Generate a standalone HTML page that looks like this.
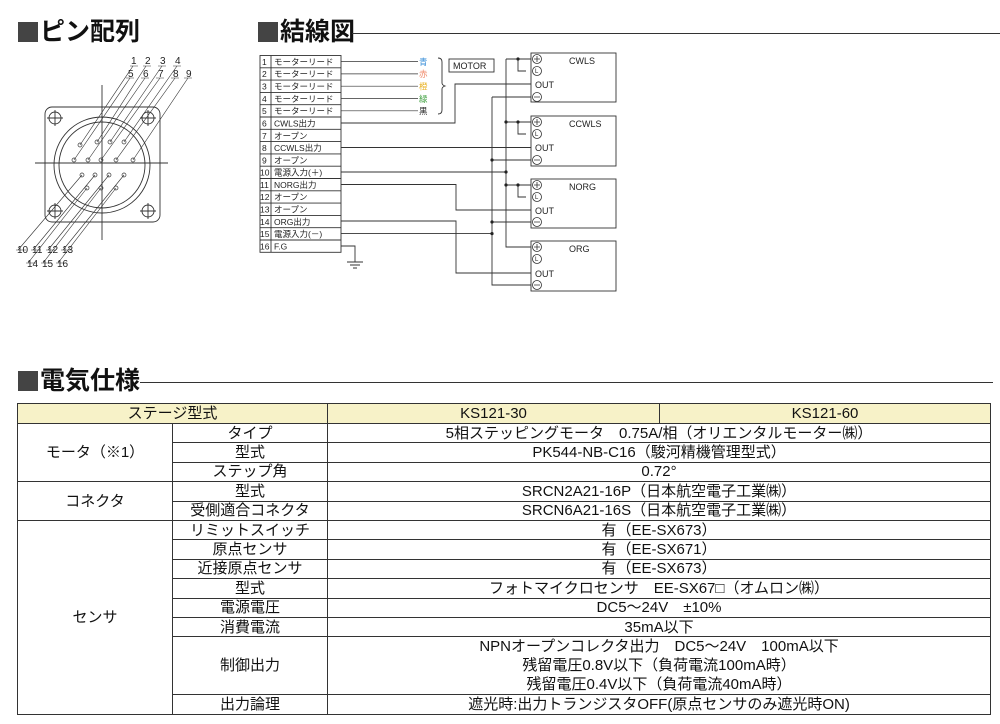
<!DOCTYPE html>
<html><head><meta charset="utf-8"><style>
body{margin:0;width:1000px;height:724px;background:#fff;overflow:hidden;position:relative;font-family:"Liberation Sans","Noto Sans CJK JP",sans-serif;color:#111}
.h{position:absolute;font-size:25px;font-weight:bold;letter-spacing:0px;line-height:30px}
.sq{display:inline-block;width:20px;height:20px;background:#444;margin-right:2px;vertical-align:-2px}
table{position:absolute;left:17px;top:403px;width:973px;border-collapse:collapse;font-size:15px;table-layout:fixed}
td{border:1px solid #333;text-align:center;padding:0;line-height:17px;white-space:nowrap;overflow:hidden}
tr{height:19.4px}
.hd td{background:#f7f2c8;height:19px}
svg{position:absolute;left:0;top:0}
</style></head><body>
<div class="h" style="left:18px;top:17px"><span class="sq"></span>ピン配列</div>
<div class="h" style="left:258px;top:17px"><span class="sq"></span>結線図</div>
<div style="position:absolute;left:352px;top:33px;width:648px;height:1px;background:#333"></div>
<div class="h" style="left:18px;top:366px"><span class="sq"></span>電気仕様</div>
<div style="position:absolute;left:140px;top:382px;width:853px;height:1px;background:#333"></div>

<svg width="1000" height="724" font-family="Liberation Sans, Noto Sans CJK JP, sans-serif">
<g stroke="#333" fill="none" stroke-width="0.9">
<rect x="45" y="107" width="115" height="115" rx="7"/>
<circle cx="102" cy="165" r="48"/><circle cx="102" cy="165" r="43"/>
<line x1="35" y1="163" x2="168" y2="163"/><line x1="102" y1="85" x2="102" y2="240"/>
<circle cx="55" cy="118" r="6"/><circle cx="148" cy="118" r="6"/><circle cx="55" cy="211" r="6"/><circle cx="148" cy="211" r="6"/>
<path d="M47 118h16M55 110v16M140 118h16M148 110v16M47 211h16M55 203v16M140 211h16M148 203v16"/>
<g stroke-width="0.7">
<circle cx="80" cy="145" r="2"/><circle cx="97" cy="142" r="2"/><circle cx="110" cy="142" r="2"/><circle cx="124" cy="142" r="2"/>
<circle cx="74" cy="160" r="2"/><circle cx="88" cy="160" r="2"/><circle cx="101" cy="160" r="2"/><circle cx="116" cy="160" r="2"/><circle cx="133" cy="160" r="2"/>
<circle cx="82" cy="175" r="2"/><circle cx="95" cy="175" r="2"/><circle cx="109" cy="175" r="2"/><circle cx="124" cy="175" r="2"/>
<circle cx="87" cy="188" r="2"/><circle cx="101" cy="188" r="2"/><circle cx="116" cy="188" r="2"/>
</g>
<g stroke-width="0.6">
<path d="M133 66L80 145M146 66L97 142M162 66L110 142M177 66L124 142"/>
<path d="M130 78L74 160M145 78L88 160M160 78L101 160M175 78L116 160M188 78L133 160"/>
<path d="M18 250L82 175M33 250L95 175M48 250L109 175M63 250L124 175"/>
<path d="M28 263L87 188M43 263L101 188M58 263L116 188"/>
<path d="M130 66h8M143 66h8M158 66h8M173 66h8M126 78h8M141 78h8M156 78h8M171 78h8M184 78h8M16 250h10M31 250h10M46 250h10M61 250h10M26 263h10M41 263h10M56 263h10"/>
</g></g>
<g font-size="10" fill="#222">
<text x="131" y="64">1</text><text x="145" y="64">2</text><text x="160" y="64">3</text><text x="175" y="64">4</text>
<text x="128" y="77">5</text><text x="143" y="77">6</text><text x="158" y="77">7</text><text x="173" y="77">8</text><text x="186" y="77">9</text>
<text x="17" y="253">10</text><text x="32" y="253">11</text><text x="47" y="253">12</text><text x="62" y="253">13</text>
<text x="27" y="267">14</text><text x="42" y="267">15</text><text x="57" y="267">16</text>
</g>

<g stroke="#333" fill="none" stroke-width="0.9">
<rect x="260" y="55.5" width="81" height="196.8"/>
<line x1="271" y1="55.5" x2="271" y2="252.3"/>
<path d="M260 67.8h81M260 80.1h81M260 92.4h81M260 104.7h81M260 117h81M260 129.3h81M260 141.6h81M260 153.9h81M260 166.2h81M260 178.5h81M260 190.8h81M260 203.1h81M260 215.4h81M260 227.7h81M260 240h81"/>
<path d="M341 61.6h77M341 73.9h77M341 86.2h77M341 98.5h77M341 110.8h77" stroke-width="0.7"/>
<path d="M438 58q4 0 4 4v21q0 2 3 3q-3 1 -3 3v21q0 4 -4 4"/>
<rect x="449" y="59" width="45" height="13"/>
<rect x="531" y="53" width="85" height="49"/><rect x="531" y="116" width="85" height="50"/>
<rect x="531" y="179" width="85" height="49"/><rect x="531" y="241" width="85" height="50"/>
<path d="M506 59V247h25M506 59h25M518 59v12h8M506 122h25M518 122v12h8M506 185h25M518 185v12h8"/>
<path d="M341 172h165"/>
<path d="M492 97h39M492 97V285h39M492 160h39M492 222h39M341 233.6h151"/>
<path d="M341 123h114V84h76M341 147.5h190M341 184.5h115V210h75M341 221h115V273h75"/>
<path d="M341 246h14v16M347 262h16M350 265h10M353 268h4"/>
</g>
<g fill="#222">
<circle cx="506" cy="122" r="1.6"/><circle cx="506" cy="172" r="1.6"/><circle cx="506" cy="185" r="1.6"/><circle cx="518" cy="59" r="1.6"/><circle cx="518" cy="122" r="1.6"/><circle cx="518" cy="185" r="1.6"/>
<circle cx="492" cy="160" r="1.6"/><circle cx="492" cy="222" r="1.6"/><circle cx="492" cy="233.6" r="1.6"/>
</g>
<g font-size="8.5" fill="#222">
<text x="262" y="65">1</text><text x="262" y="77">2</text><text x="262" y="89.5">3</text><text x="262" y="102">4</text><text x="262" y="114">5</text><text x="262" y="126.5">6</text><text x="262" y="139">7</text><text x="262" y="151">8</text><text x="262" y="163.5">9</text>
<text x="260" y="175.5">10</text><text x="260" y="188">11</text><text x="260" y="200">12</text><text x="260" y="212.5">13</text><text x="260" y="225">14</text><text x="260" y="237">15</text><text x="260" y="249.5">16</text>
<text x="274" y="65">モーターリード</text><text x="274" y="77">モーターリード</text><text x="274" y="89.5">モーターリード</text><text x="274" y="102">モーターリード</text><text x="274" y="114">モーターリード</text>
<text x="274" y="126.5">CWLS出力</text><text x="274" y="139">オープン</text><text x="274" y="151">CCWLS出力</text><text x="274" y="163.5">オープン</text><text x="274" y="175.5">電源入力(＋)</text><text x="274" y="188">NORG出力</text><text x="274" y="200">オープン</text><text x="274" y="212.5">オープン</text><text x="274" y="225">ORG出力</text><text x="274" y="237">電源入力(－)</text><text x="274" y="249.5">F.G</text>
<text x="419" y="65" fill="#3a8fd8">青</text><text x="419" y="77" fill="#f08a6a">赤</text><text x="419" y="89.5" fill="#e8b020">橙</text><text x="419" y="102" fill="#40a040">緑</text><text x="419" y="114">黒</text>
<text x="453" y="69" font-size="9">MOTOR</text>
<g font-size="9">
<text x="569" y="64">CWLS</text><text x="569" y="127">CCWLS</text><text x="569" y="190">NORG</text><text x="569" y="252">ORG</text>
<text x="535" y="88">OUT</text><text x="535" y="151">OUT</text><text x="535" y="214">OUT</text><text x="535" y="277">OUT</text>
</g>
</g>
<g stroke="#333" fill="#fff" stroke-width="0.8">
<circle cx="537" cy="59" r="4.5"/><circle cx="537" cy="71" r="4.5"/><circle cx="537" cy="97" r="4.5"/>
<circle cx="537" cy="122" r="4.5"/><circle cx="537" cy="134" r="4.5"/><circle cx="537" cy="160" r="4.5"/>
<circle cx="537" cy="185" r="4.5"/><circle cx="537" cy="197" r="4.5"/><circle cx="537" cy="222" r="4.5"/>
<circle cx="537" cy="247" r="4.5"/><circle cx="537" cy="259" r="4.5"/><circle cx="537" cy="285" r="4.5"/>
<path d="M534 59h6M537 56v6M534 97h6M534 122h6M537 119v6M534 160h6M534 185h6M537 182v6M534 222h6M534 247h6M537 244v6M534 285h6" fill="none"/>
</g>
<g font-size="6" fill="#222"><text x="535" y="73">L</text><text x="535" y="136">L</text><text x="535" y="199">L</text><text x="535" y="261">L</text></g>
</svg>

<table>
<colgroup><col style="width:155px"><col style="width:155px"><col style="width:332px"><col style="width:331px"></colgroup>
<tr class="hd"><td colspan="2">ステージ型式</td><td>KS121-30</td><td>KS121-60</td></tr>
<tr><td rowspan="3">モータ（※1）</td><td>タイプ</td><td colspan="2">5相ステッピングモータ　0.75A/相（オリエンタルモーター㈱）</td></tr>
<tr><td>型式</td><td colspan="2">PK544-NB-C16（駿河精機管理型式）</td></tr>
<tr><td>ステップ角</td><td colspan="2">0.72°</td></tr>
<tr><td rowspan="2">コネクタ</td><td>型式</td><td colspan="2">SRCN2A21-16P（日本航空電子工業㈱）</td></tr>
<tr><td>受側適合コネクタ</td><td colspan="2">SRCN6A21-16S（日本航空電子工業㈱）</td></tr>
<tr><td rowspan="8">センサ</td><td>リミットスイッチ</td><td colspan="2">有（EE-SX673）</td></tr>
<tr><td>原点センサ</td><td colspan="2">有（EE-SX671）</td></tr>
<tr><td>近接原点センサ</td><td colspan="2">有（EE-SX673）</td></tr>
<tr><td>型式</td><td colspan="2">フォトマイクロセンサ　EE-SX67□（オムロン㈱）</td></tr>
<tr><td>電源電圧</td><td colspan="2">DC5～24V　±10%</td></tr>
<tr><td>消費電流</td><td colspan="2">35mA以下</td></tr>
<tr style="height:58px"><td>制御出力</td><td colspan="2" style="line-height:19px">NPNオープンコレクタ出力　DC5～24V　100mA以下<br>残留電圧0.8V以下（負荷電流100mA時）<br>残留電圧0.4V以下（負荷電流40mA時）</td></tr>
<tr style="height:20px"><td>出力論理</td><td colspan="2">遮光時:出力トランジスタOFF(原点センサのみ遮光時ON)</td></tr>
</table>
</body></html>
